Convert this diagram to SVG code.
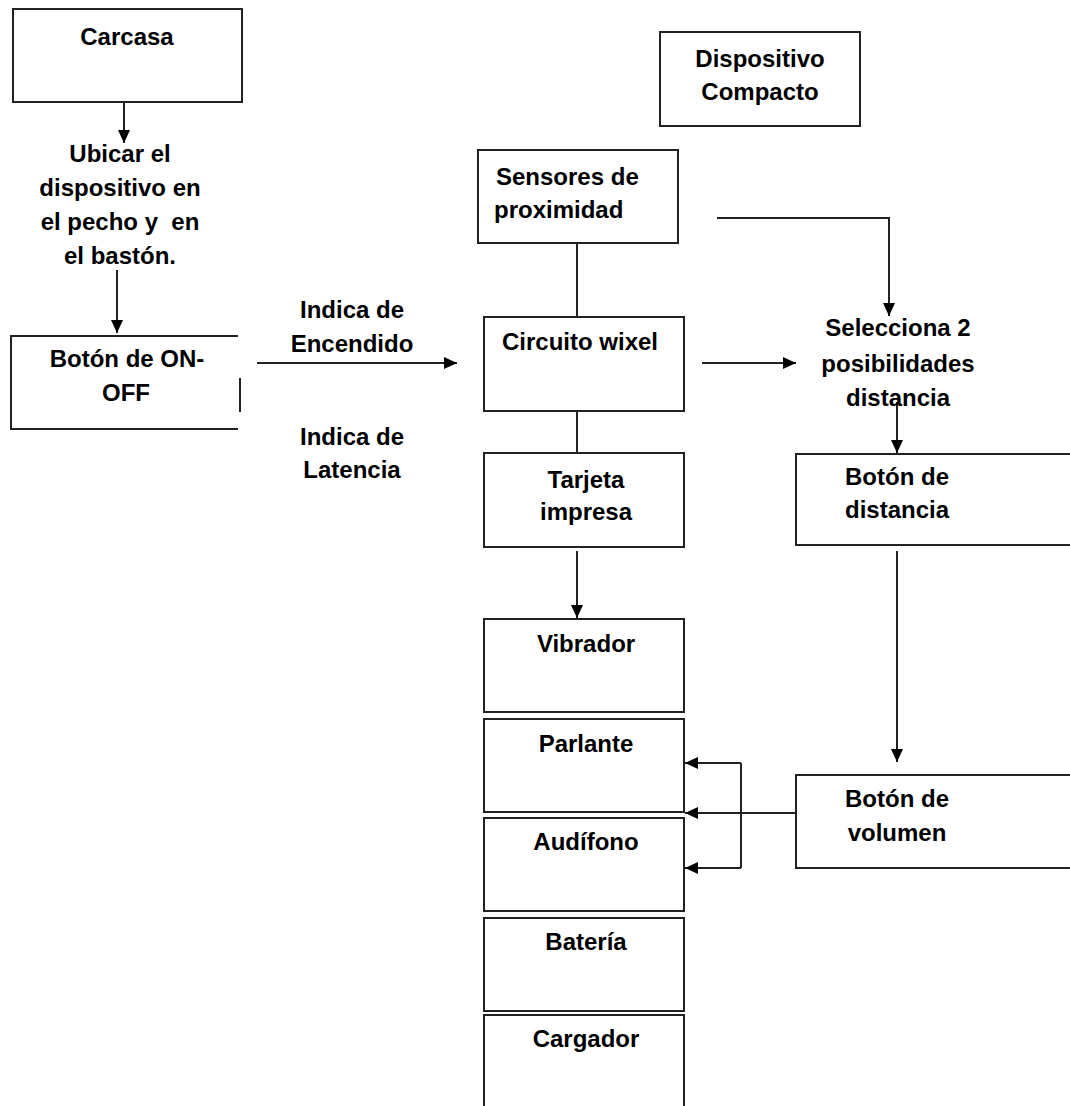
<svg xmlns="http://www.w3.org/2000/svg" width="1070" height="1106" viewBox="0 0 1070 1106">
<defs>
<marker id="ah" markerUnits="userSpaceOnUse" markerWidth="14" markerHeight="12" refX="13" refY="6" orient="auto">
<path d="M0,0 L13,6 L0,12 Z" fill="#000"/>
</marker>
<style>
.box{fill:#fff;stroke:#222;stroke-width:2}
.ln{fill:none;stroke:#222;stroke-width:2}
.t{font-family:"Liberation Sans",Arial,sans-serif;font-weight:bold;font-size:24px;fill:#000}
.c{text-anchor:middle}
</style>
</defs>
<rect width="1070" height="1106" fill="#fff"/>
<g id="connectors">
<line class="ln" x1="124" y1="102" x2="124" y2="143" marker-end="url(#ah)"/>
<line class="ln" x1="117" y1="270" x2="117" y2="333" marker-end="url(#ah)"/>
<line class="ln" x1="257" y1="363" x2="457" y2="363" marker-end="url(#ah)"/>
<line class="ln" x1="577" y1="243" x2="577" y2="317"/>
<polyline class="ln" points="717,218 889,218 889,316" marker-end="url(#ah)"/>
<line class="ln" x1="702" y1="363" x2="796" y2="363" marker-end="url(#ah)"/>
<line class="ln" x1="577" y1="411" x2="577" y2="453"/>
<line class="ln" x1="897" y1="402" x2="897" y2="453" marker-end="url(#ah)"/>
<line class="ln" x1="577" y1="551" x2="577" y2="618" marker-end="url(#ah)"/>
<line class="ln" x1="897" y1="551" x2="897" y2="762" marker-end="url(#ah)"/>
<line class="ln" x1="796" y1="813" x2="685" y2="813" marker-end="url(#ah)"/>
<polyline class="ln" points="741,763 741,868"/>
<line class="ln" x1="741" y1="763" x2="685" y2="763" marker-end="url(#ah)"/>
<line class="ln" x1="741" y1="868" x2="685" y2="868" marker-end="url(#ah)"/>
</g>
<g id="carcasa">
<rect class="box" x="13" y="9" width="229" height="93"/>
<text class="t c" x="127" y="45">Carcasa</text>
</g>
<g id="ubicar">
<text class="t c" x="120" y="162">Ubicar el</text>
<text class="t c" x="120" y="196">dispositivo en</text>
<text class="t c" x="120" y="230" xml:space="preserve">el pecho y  en</text>
<text class="t c" x="120" y="264">el bastón.</text>
</g>
<g id="onoff">
<polyline class="ln" points="238,336 11,336 11,429 238,429"/>
<line class="ln" x1="240" y1="378" x2="240" y2="412"/>
<text class="t c" x="127" y="367">Botón de ON-</text>
<text class="t c" x="126" y="401">OFF</text>
</g>
<g id="encendido">
<text class="t c" x="352" y="318">Indica de</text>
<text class="t c" x="352" y="352">Encendido</text>
</g>
<g id="latencia">
<text class="t c" x="352" y="445">Indica de</text>
<text class="t c" x="352" y="478">Latencia</text>
</g>
<g id="dispositivo">
<rect class="box" x="660" y="32" width="200" height="94"/>
<text class="t c" x="760" y="67">Dispositivo</text>
<text class="t c" x="760" y="100">Compacto</text>
</g>
<g id="sensores">
<rect class="box" x="478" y="150" width="200" height="93"/>
<text class="t" x="496" y="185">Sensores de</text>
<text class="t" x="494" y="218">proximidad</text>
</g>
<g id="circuito">
<rect class="box" x="484" y="317" width="200" height="94"/>
<text class="t" x="502" y="350">Circuito wixel</text>
</g>
<g id="selecciona">
<text class="t c" x="898" y="336">Selecciona 2</text>
<text class="t c" x="898" y="372">posibilidades</text>
<text class="t c" x="898" y="406">distancia</text>
</g>
<g id="tarjeta">
<rect class="box" x="484" y="453" width="200" height="94"/>
<text class="t c" x="586" y="488">Tarjeta</text>
<text class="t c" x="586" y="520">impresa</text>
</g>
<g id="boton-distancia">
<polyline class="ln" points="1071,454 796,454 796,545 1071,545"/>
<text class="t c" x="897" y="485">Botón de</text>
<text class="t c" x="897" y="518">distancia</text>
</g>
<g id="vibrador">
<rect class="box" x="484" y="619" width="200" height="93"/>
<text class="t c" x="586" y="652">Vibrador</text>
</g>
<g id="parlante">
<rect class="box" x="484" y="719" width="200" height="93"/>
<text class="t c" x="586" y="752">Parlante</text>
</g>
<g id="audifono">
<rect class="box" x="484" y="818" width="200" height="93"/>
<text class="t c" x="586" y="850">Audífono</text>
</g>
<g id="bateria">
<rect class="box" x="484" y="918" width="200" height="93"/>
<text class="t c" x="586" y="950">Batería</text>
</g>
<g id="cargador">
<polyline class="ln" points="484,1110 484,1015 684,1015 684,1110"/>
<text class="t c" x="586" y="1047">Cargador</text>
</g>
<g id="boton-volumen">
<polyline class="ln" points="1071,775 796,775 796,868 1071,868"/>
<text class="t c" x="897" y="807">Botón de</text>
<text class="t c" x="897" y="841">volumen</text>
</g>
</svg>
